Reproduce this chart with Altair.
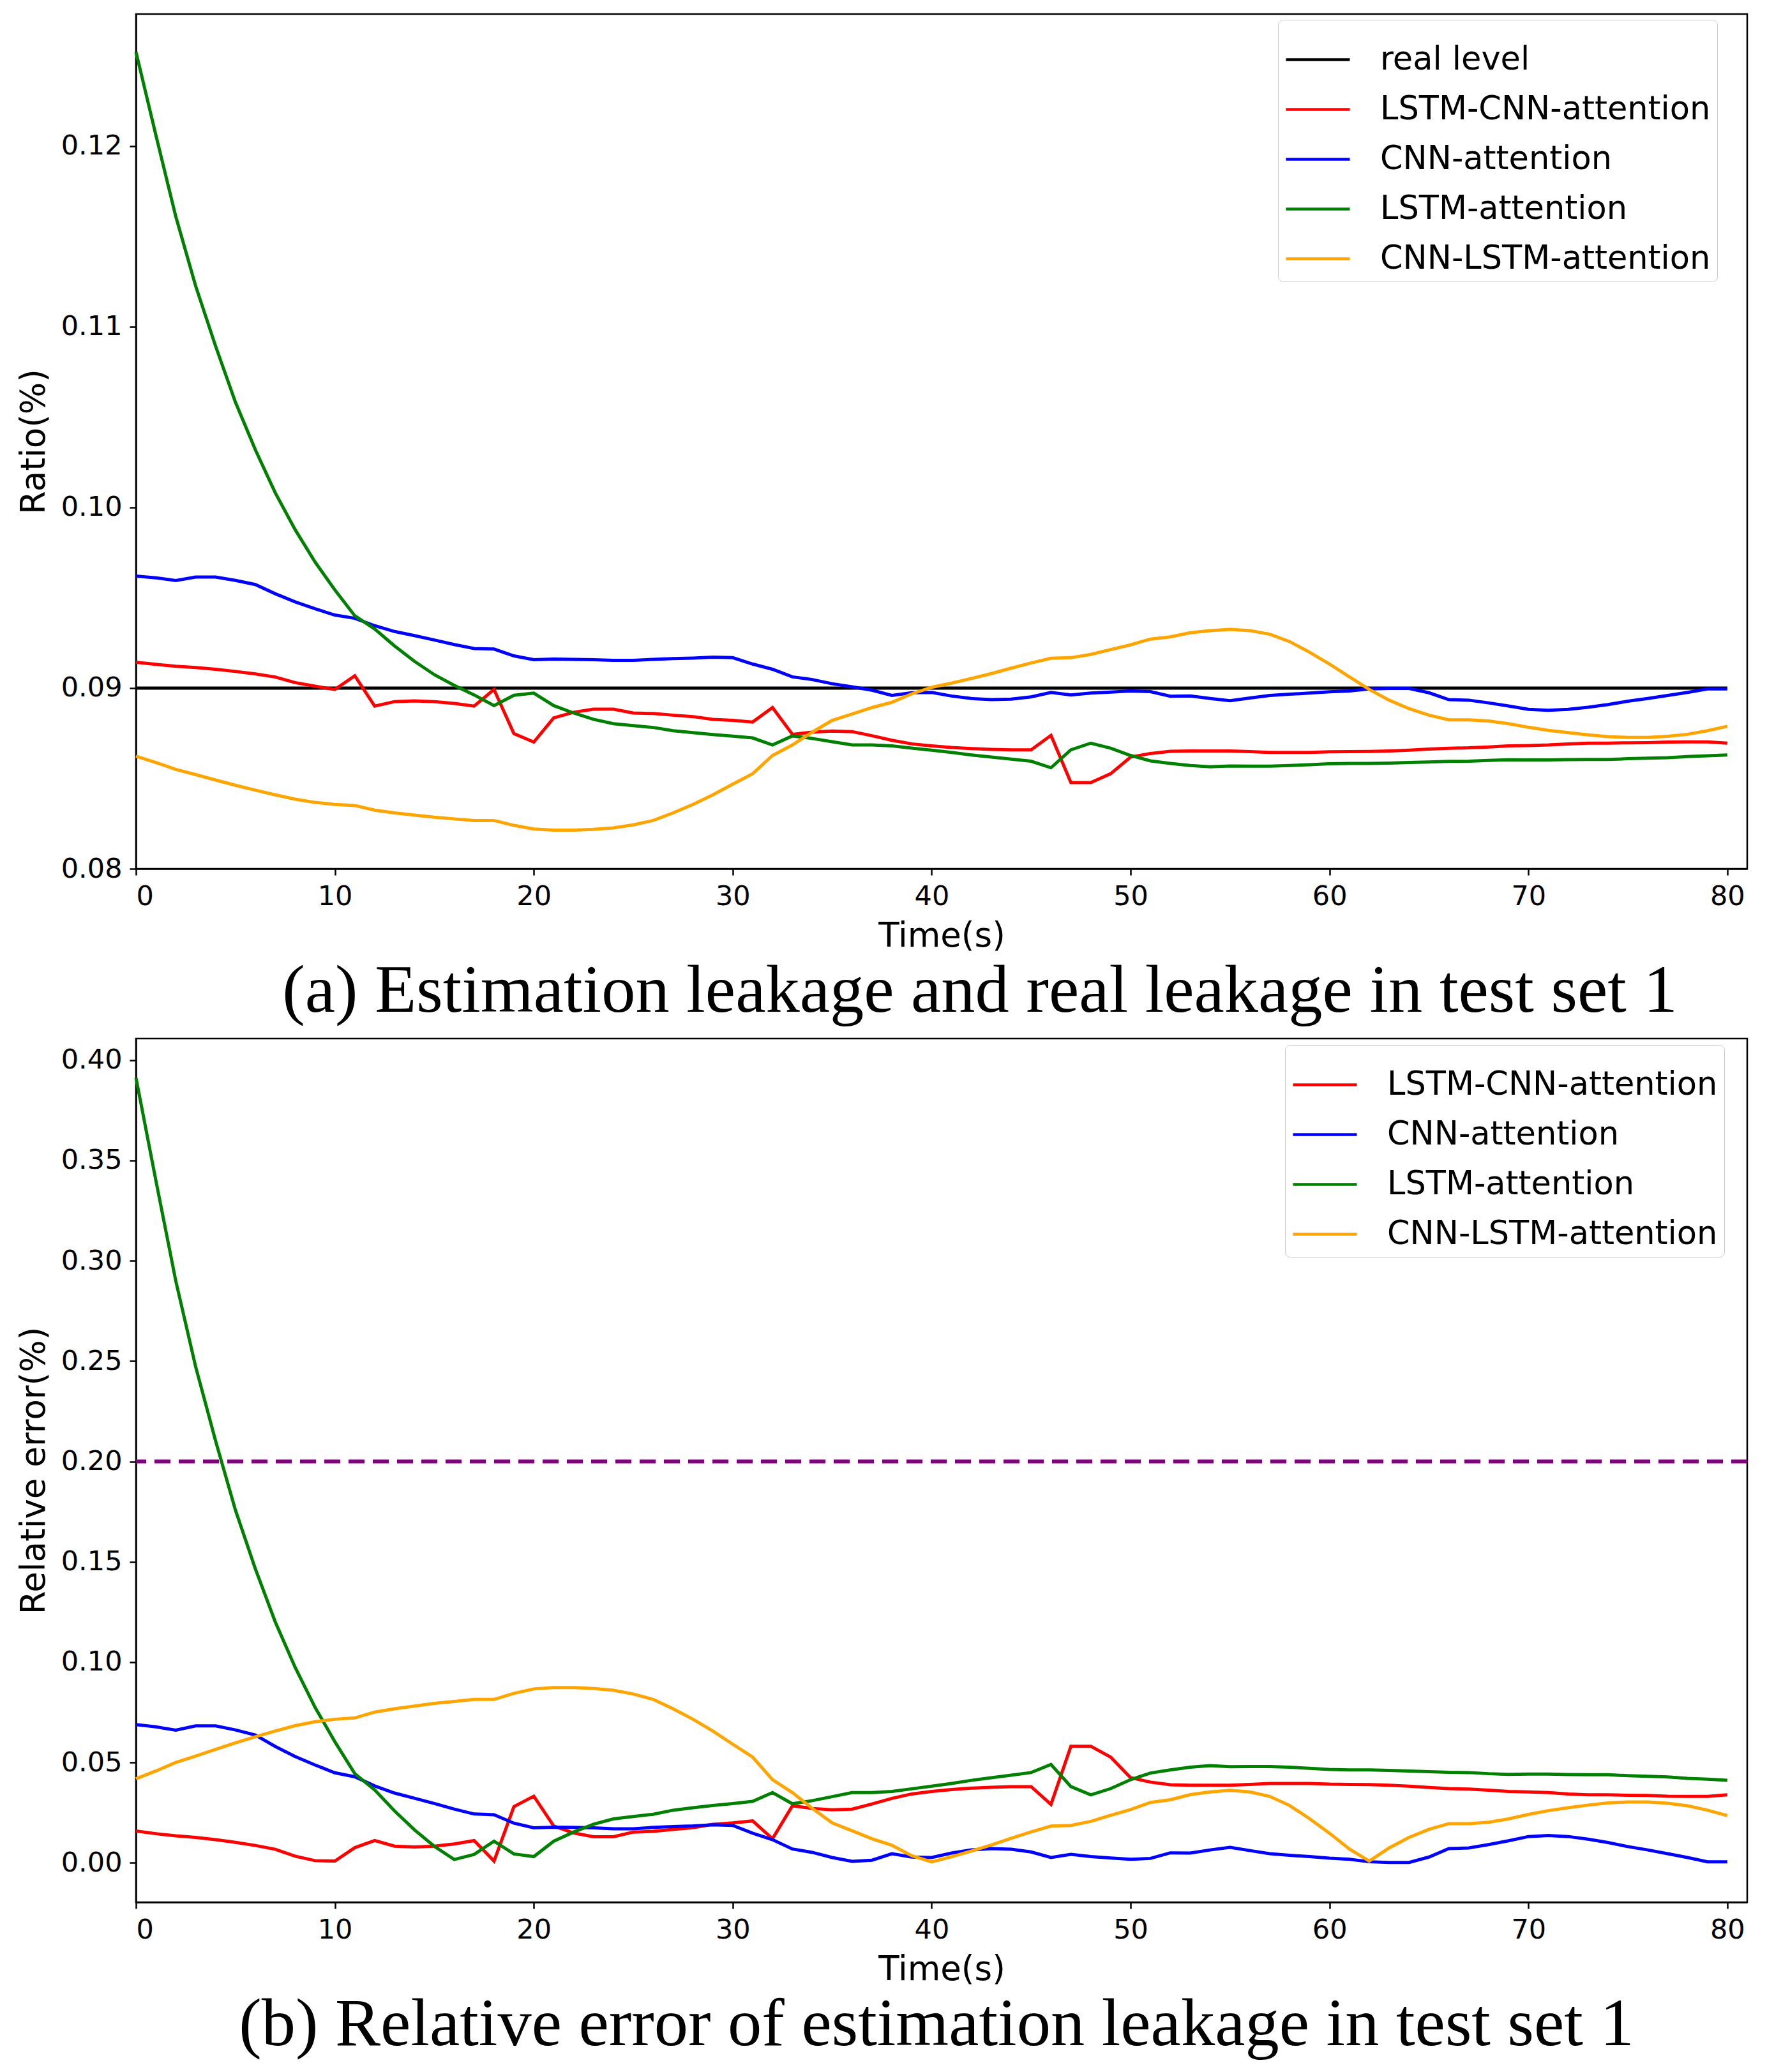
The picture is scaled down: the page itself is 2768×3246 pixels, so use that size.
import altair as alt
import pandas as pd

# ---------------- data ----------------
t = list(range(81))
real_level = 0.09
threshold = 0.20

lstm_cnn_att = [0.09143, 0.09131, 0.09121, 0.09114, 0.09104, 0.09092, 0.09078, 0.09061, 0.09030, 0.09010,
                0.08992, 0.09068, 0.08900, 0.08925, 0.08929, 0.08925, 0.08915, 0.08900, 0.08992, 0.08748,
                0.08701, 0.08835, 0.08866, 0.08883, 0.08883, 0.08862, 0.08859, 0.08850, 0.08842, 0.08827,
                0.08821, 0.08812, 0.08892, 0.08744, 0.08756, 0.08762, 0.08759, 0.08736, 0.08711, 0.08691,
                0.08680, 0.08671, 0.08665, 0.08661, 0.08658, 0.08658, 0.08738, 0.08477, 0.08477, 0.08526,
                0.08618, 0.08638, 0.08650, 0.08652, 0.08652, 0.08652, 0.08648, 0.08644, 0.08644, 0.08644,
                0.08647, 0.08648, 0.08649, 0.08652, 0.08656, 0.08662, 0.08667, 0.08669, 0.08674, 0.08680,
                0.08682, 0.08685, 0.08691, 0.08695, 0.08695, 0.08697, 0.08698, 0.08701, 0.08702, 0.08702,
                0.08695]

cnn_att = [0.09620, 0.09610, 0.09595, 0.09614, 0.09614, 0.09596, 0.09573, 0.09522, 0.09477, 0.09439,
           0.09404, 0.09386, 0.09345, 0.09313, 0.09290, 0.09266, 0.09241, 0.09219, 0.09216, 0.09178,
           0.09157, 0.09160, 0.09159, 0.09157, 0.09153, 0.09153, 0.09159, 0.09163, 0.09166, 0.09171,
           0.09168, 0.09133, 0.09104, 0.09062, 0.09047, 0.09024, 0.09007, 0.08988, 0.08959, 0.08974,
           0.08976, 0.08956, 0.08942, 0.08936, 0.08939, 0.08951, 0.08976, 0.08962, 0.08972, 0.08978,
           0.08984, 0.08980, 0.08955, 0.08956, 0.08942, 0.08930, 0.08945, 0.08959, 0.08966, 0.08972,
           0.08979, 0.08984, 0.08995, 0.08998, 0.08998, 0.08974, 0.08936, 0.08933, 0.08918, 0.08901,
           0.08882, 0.08877, 0.08882, 0.08894, 0.08909, 0.08927, 0.08942, 0.08959, 0.08976, 0.08995,
           0.08995]

lstm_att = [0.12520, 0.12060, 0.11610, 0.11225, 0.10893, 0.10582, 0.10319, 0.10081, 0.09877, 0.09698,
            0.09543, 0.09400, 0.09327, 0.09233, 0.09148, 0.09074, 0.09015, 0.08962, 0.08903, 0.08960,
            0.08972, 0.08903, 0.08862, 0.08827, 0.08803, 0.08792, 0.08782, 0.08764, 0.08753, 0.08743,
            0.08734, 0.08724, 0.08685, 0.08735, 0.08721, 0.08703, 0.08685, 0.08685, 0.08680, 0.08668,
            0.08656, 0.08644, 0.08630, 0.08618, 0.08607, 0.08595, 0.08559, 0.08658, 0.08695, 0.08667,
            0.08627, 0.08597, 0.08583, 0.08571, 0.08564, 0.08569, 0.08568, 0.08568, 0.08571, 0.08576,
            0.08581, 0.08583, 0.08583, 0.08585, 0.08588, 0.08591, 0.08594, 0.08595, 0.08600, 0.08603,
            0.08602, 0.08602, 0.08604, 0.08605, 0.08605, 0.08609, 0.08612, 0.08615, 0.08621, 0.08625,
            0.08630]

cnn_lstm_att = [0.08623, 0.08588, 0.08550, 0.08521, 0.08491, 0.08462, 0.08435, 0.08409, 0.08385, 0.08367,
                0.08356, 0.08350, 0.08324, 0.08309, 0.08297, 0.08285, 0.08276, 0.08267, 0.08267, 0.08240,
                0.08220, 0.08214, 0.08214, 0.08218, 0.08226, 0.08243, 0.08267, 0.08309, 0.08356, 0.08409,
                0.08468, 0.08526, 0.08627, 0.08685, 0.08756, 0.08821, 0.08856, 0.08892, 0.08921, 0.08968,
                0.09004, 0.09027, 0.09053, 0.09080, 0.09110, 0.09139, 0.09165, 0.09168, 0.09186, 0.09213,
                0.09239, 0.09271, 0.09283, 0.09306, 0.09318, 0.09325, 0.09318, 0.09298, 0.09257, 0.09198,
                0.09133, 0.09062, 0.08992, 0.08933, 0.08886, 0.08850, 0.08824, 0.08824, 0.08818, 0.08803,
                0.08783, 0.08766, 0.08753, 0.08741, 0.08731, 0.08727, 0.08727, 0.08733, 0.08744, 0.08764,
                0.08788]

model_names = ["LSTM-CNN-attention", "CNN-attention", "LSTM-attention", "CNN-LSTM-attention"]
model_colors = ["#ff0000", "#0000ff", "#008000", "#ffa500"]
model_values = [lstm_cnn_att, cnn_att, lstm_att, cnn_lstm_att]

# ---------------- tables ----------------
rows_a = [{"t": tt, "v": real_level, "s": "real level"} for tt in t]
rows_b = []
for name, vals in zip(model_names, model_values):
    for tt, v in zip(t, vals):
        rows_a.append({"t": tt, "v": v, "s": name})
        rows_b.append({"t": tt, "v": abs(v - real_level) / real_level, "s": name})
df_a = pd.DataFrame(rows_a)
df_b = pd.DataFrame(rows_b)
df_thr = pd.DataFrame({"v": [threshold]})

FONT = "DejaVu Sans"
SERIF = "Liberation Serif"
PANEL_W = 2524

legend_common = dict(
    orient="none", title=None, symbolType="stroke", symbolSize=10000,
    symbolStrokeWidth=4.5, labelFontSize=51, labelFont=FONT, labelLimit=700,
    labelOffset=45, rowPadding=-25, padding=10, strokeColor="#cccccc",
    fillColor="white", cornerRadius=8, labelColor="black",
)

x_enc = alt.X("t:Q", scale=alt.Scale(domain=[0, 81], nice=False, zero=False),
              axis=alt.Axis(values=list(range(0, 81, 10)), format="d", title="Time(s)"))

# ---------------- panel (a) ----------------
top = alt.Chart(df_a).mark_line(strokeWidth=5).encode(
    x=x_enc,
    y=alt.Y("v:Q", scale=alt.Scale(domain=[0.08, 0.1273], nice=False, zero=False),
            axis=alt.Axis(values=[0.08, 0.09, 0.10, 0.11, 0.12], format=".2f",
                          title="Ratio(%)", titlePadding=15)),
    color=alt.Color("s:N",
                    scale=alt.Scale(domain=["real level"] + model_names,
                                    range=["#000000"] + model_colors),
                    legend=alt.Legend(legendX=1789, legendY=9, **legend_common)),
).properties(
    width=PANEL_W, height=1339,
    title=alt.TitleParams("(a) Estimation leakage and real leakage in test set 1",
                          orient="bottom", font=SERIF, fontSize=106.5, fontWeight="normal",
                          color="black", anchor="middle", offset=8, dx=60),
)

# ---------------- panel (b) ----------------
y_b = alt.Y("v:Q", scale=alt.Scale(domain=[-0.0196, 0.4107], nice=False, zero=False),
            axis=alt.Axis(values=[0.0, 0.05, 0.10, 0.15, 0.20, 0.25, 0.30, 0.35, 0.40],
                          format=".2f", title="Relative error(%)", titlePadding=15))

lines_b = alt.Chart(df_b).mark_line(strokeWidth=5).encode(
    x=x_enc,
    y=y_b,
    color=alt.Color("s:N",
                    scale=alt.Scale(domain=model_names, range=model_colors),
                    legend=alt.Legend(legendX=1800, legendY=10, **legend_common)),
)
rule_b = alt.Chart(df_thr).mark_rule(color="#800080", strokeDash=[25, 13], strokeWidth=6).encode(y=y_b)

bottom = alt.layer(lines_b, rule_b).properties(
    width=PANEL_W, height=1353,
    title=alt.TitleParams("(b) Relative error of estimation leakage in test set 1",
                          orient="bottom", font=SERIF, fontSize=106.5, fontWeight="normal",
                          color="black", anchor="middle", offset=8, dx=-8),
)

chart = alt.vconcat(top, bottom, spacing=17).resolve_scale(
    color="independent", x="independent", y="independent"
).properties(
    padding={"left": 18, "top": 12, "right": 0, "bottom": 0}
).configure_view(
    stroke="black", strokeWidth=2.5
).configure_axis(
    domainColor="black", domainWidth=2.5, tickColor="black", tickWidth=2.5, tickSize=10,
    labelFont=FONT, labelFontSize=43, labelColor="black", labelPadding=12,
    titleFont=FONT, titleFontSize=53, titleFontWeight="normal", titleColor="black",
    grid=False,
).configure_axisX(titlePadding=14)

chart.save("out.html", embed_options={"renderer": "svg", "actions": False})
